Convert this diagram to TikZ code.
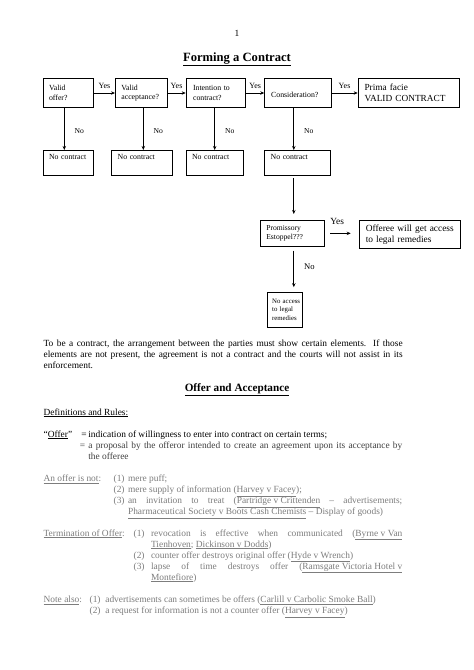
\documentclass[tikz,border=0pt]{standalone}
\usepackage{fontspec}
\setmainfont{Liberation Serif}
\usepackage{tikz}
\usetikzlibrary{
    positioning,
    arrows.meta
}
\definecolor{blurInk}{RGB}{125, 125, 125}

\tikzset{
    qbox/.style={draw, rectangle, anchor=north west, inner xsep=6pt, inner ysep=0pt,
        align=left, font=\fontsize{7.8}{9.4}\selectfont},
    ncbox/.style={qbox, text height=6pt, text depth=12pt, inner ysep=3.5pt},
    bigbox/.style={qbox, font=\fontsize{9.3}{11.4}\selectfont},
    yeslbl/.style={font=\fontsize{8}{9}\selectfont, inner sep=0pt, above=4.5pt},
    nolbl/.style={font=\fontsize{7.6}{9}\selectfont, inner sep=0pt, right=10pt},
    body/.style={font=\fontsize{9.4}{11}\selectfont, inner sep=0pt, anchor=base west},
    blurtext/.style={body, text=blurInk},
    heading/.style={font=\fontsize{12.6}{14}\selectfont\bfseries, inner sep=0pt, anchor=base}
}

\begin{document}
\begin{tikzpicture}[x=1pt, y=-1pt, line width=0.7pt, >={Stealth[length=4pt, width=3.4pt]}]
    \useasboundingbox[fill=white] (0,0) rectangle (474,670);

    % x of the downward arrows
    \coordinate (c1) at (64.3,0);
    \coordinate (c2) at (143.3,0);
    \coordinate (c3) at (214.7,0);
    \coordinate (c4) at (293.8,0);

    \node[body, anchor=base] (pagenum) at (237,36.5) {1};
    \node[heading] (title) at (237,61.3) {\underline{Forming a Contract}};

    % first row: the questions
    \node[qbox, minimum width=50.3pt, minimum height=29.3pt, text width=38.3pt] (offer) at (42.7,78) {Valid\\offer?};
    \node[qbox, minimum width=51.7pt, minimum height=29.3pt, text width=39.7pt] (accept) at (115,78) {Valid\\acceptance?};
    \node[qbox, minimum width=57.6pt, minimum height=29.3pt, text width=45.6pt, inner xsep=7pt] (intent) at (185.7,78) {Intention to\\contract?};
    \node[qbox, minimum width=65.4pt, minimum height=29.3pt, text width=53.4pt, inner xsep=6.5pt] (consid) at (264.3,78) {\mbox{}\\Consideration?};
    \node[bigbox, minimum width=101pt, minimum height=29.3pt, text width=88pt, inner xsep=6.5pt] (prima) at (357.7,78) {Prima facie\\VALID CONTRACT};

    \draw[->] (offer) -- (accept) node[yeslbl, midway] {Yes};
    \draw[->] (accept) -- (intent) node[yeslbl, midway] {Yes};
    \draw[->] (intent) -- (consid) node[yeslbl, midway] {Yes};
    \draw[->] (consid) -- (prima) node[yeslbl, midway] {Yes};

    % second row: no contract
    \node[ncbox, minimum width=50.3pt, text width=38.3pt] (nc1) at (42.7,150) {No contract};
    \node[ncbox, minimum width=60.7pt, text width=48.7pt] (nc2) at (111.3,150) {No contract};
    \node[ncbox, minimum width=57.6pt, text width=45.6pt] (nc3) at (185.7,150) {No contract};
    \node[ncbox, minimum width=65.4pt, text width=53.4pt] (nc4) at (264.3,150) {No contract};

    \draw[->] (offer.south -| c1) -- (nc1.north -| c1) node[nolbl, pos=0.56] {No};
    \draw[->] (accept.south -| c2) -- (nc2.north -| c2) node[nolbl, pos=0.56] {No};
    \draw[->] (intent.south -| c3) -- (nc3.north -| c3) node[nolbl, pos=0.56] {No};
    \draw[->] (consid.south -| c4) -- (nc4.north -| c4) node[nolbl, pos=0.56] {No};

    % promissory estoppel
    \node[qbox, minimum width=64pt, minimum height=26pt, text width=52pt, font=\fontsize{7.6}{8.8}\selectfont] (promo) at (260,220) {Promissory\\Estoppel???};
    \node[bigbox, minimum width=100.7pt, minimum height=28.3pt, text width=88.5pt, font=\fontsize{9.4}{11.4}\selectfont] (offeree) at (359.3,220) {Offeree will get access\\to legal remedies};
    \node[qbox, minimum width=35pt, minimum height=35pt, text width=31pt, inner xsep=2pt, font=\fontsize{6.8}{8.4}\selectfont] (noacc) at (267.3,291.7) {\mbox{\hspace*{2.5pt}No access}\\\mbox{\hspace*{2.5pt}to legal}\\\mbox{\hspace*{2.5pt}remedies}};

    \draw[->, shorten <=2.3pt, shorten >=6pt] (nc4.south -| c4) -- (promo.north -| c4);
    \draw[->, shorten <=5.3pt, shorten >=8.6pt] (promo.east) -- (offeree.west |- promo.east)
        node[at start, anchor=base west, xshift=5.3pt, yshift=8.5pt, inner sep=0pt, font=\fontsize{9.4}{11}\selectfont] {Yes};
    \draw[->, shorten <=4pt, shorten >=4.5pt] (promo.south -| c4) -- (noacc.north -| c4)
        node[nolbl, pos=0.44, font=\fontsize{8.6}{10}\selectfont] {No};

    % text of the page
    \node[body, text width=359pt, align=justify] (intro) at (43.3,346) {To be a contract, the arrangement between the parties must show certain elements.\ \ If those\linebreak elements are not present, the agreement is not a contract and the courts will not assist in its\linebreak enforcement.};

    \node[heading, font=\fontsize{11.2}{13}\selectfont\bfseries] (oatitle) at (237,391.5) {\underline{Offer and Acceptance}};
    \node[body] (defs) at (43.3,415) {\underline{Definitions and Rules:}};

    \node[body] (offerword) at (43.3,437) {``\underline{Offer}''};
    \node[body] (eqa) at (81,437) {=};
    \node[body] (defa) at (88,437) {indication of willingness to enter into contract on certain terms;};
    \node[blurtext, text=black!75] (eqb) at (79.5,448.3) {=};
    \node[blurtext, text=black!75, text width=314pt, align=justify] (defb) at (88,448.3) {a proposal by the offeror intended to create an agreement upon its acceptance by\linebreak the offeree};

    % an offer is not
    \node[blurtext] (notoffer) at (43.3,481.5) {\underline{An offer is not}:};
    \node[blurtext] (na1) at (113.3,481.5) {(1)};
    \node[blurtext] (nt1) at (127.7,481.5) {mere puff;};
    \node[blurtext] (na2) at (113.3,492.5) {(2)};
    \node[blurtext] (nt2) at (127.7,492.5) {mere supply of information (\underline{Harvey v Facey});};
    \node[blurtext] (na3) at (113.3,503.5) {(3)};
    \node[blurtext, text width=274.3pt, align=justify] (nt3) at (127.7,503.5) {an invitation to treat (\underline{Partridge v Crittenden} -- advertisements;\linebreak \underline{Pharmaceutical Society v Boots Cash Chemists} -- Display of goods)};

    % termination
    \node[blurtext] (termoffer) at (43.3,536) {\underline{Termination of Offer}:};
    \node[blurtext] (ta1) at (133.3,536) {(1)};
    \node[blurtext, text width=251.3pt, align=justify] (tt1) at (150.7,536) {revocation is effective when communicated (\underline{Byrne v Van}\linebreak \underline{Tienhoven}; \underline{Dickinson v Dodds})};
    \node[blurtext] (ta2) at (133.3,558.2) {(2)};
    \node[blurtext] (tt2) at (150.7,558.2) {counter offer destroys original offer (\underline{Hyde v Wrench})};
    \node[blurtext] (ta3) at (133.3,569.2) {(3)};
    \node[blurtext, text width=251.3pt, align=justify] (tt3) at (150.7,569.2) {lapse of time destroys offer (\underline{Ramsgate Victoria Hotel v}\linebreak \underline{Montefiore})};

    % note also
    \node[blurtext] (notealso) at (43.3,602.5) {\underline{Note also}:};
    \node[blurtext] (aa1) at (89.3,602.5) {(1)};
    \node[blurtext] (at1) at (105,602.5) {advertisements can sometimes be offers (\underline{Carlill v Carbolic Smoke Ball})};
    \node[blurtext] (aa2) at (89.3,613.5) {(2)};
    \node[blurtext] (at2) at (105,613.5) {a request for information is not a counter offer (\underline{Harvey v Facey})};
\end{tikzpicture}
\end{document}
